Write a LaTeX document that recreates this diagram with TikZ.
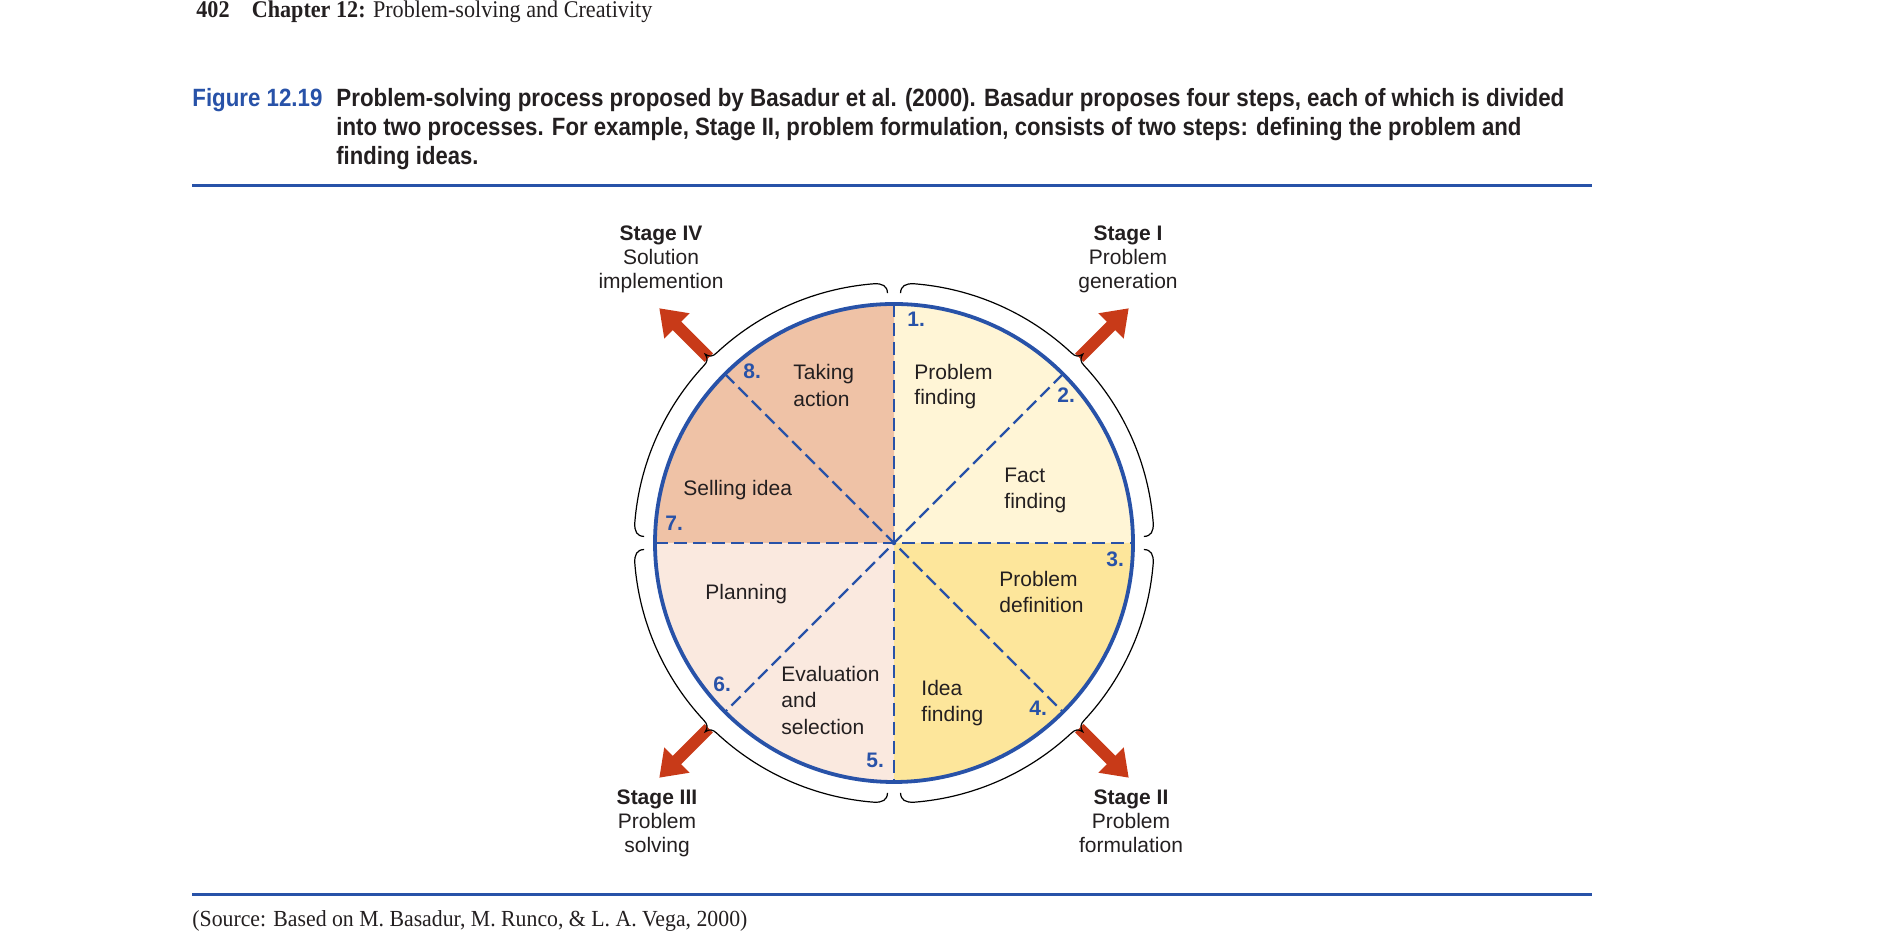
\documentclass[tikz,border=0pt]{standalone}
\usepackage{fontspec}
\setmainfont{Liberation Sans}
\newfontfamily\hdrfont{Liberation Serif}
\usepackage{graphicx}
\usetikzlibrary{arrows.meta}
\definecolor{figblue}{RGB}{40,82,168}
\definecolor{arrred}{RGB}{200,58,24}
\definecolor{txtdark}{RGB}{35,31,32}
\definecolor{qone}{RGB}{255,245,214}
\definecolor{qtwo}{RGB}{253,230,155}
\definecolor{qthree}{RGB}{250,233,223}
\definecolor{qfour}{RGB}{239,194,166}
\begin{document}
\begin{tikzpicture}[x=0.5pt,y=0.5pt,
  lbl/.style={anchor=base west, inner sep=0pt, font=\fontsize{10.5}{13}\selectfont, text=txtdark},
  num/.style={anchor=base west, inner sep=0pt, font=\fontsize{10.5}{13}\selectfont\bfseries, text=figblue},
  stg/.style={anchor=base, inner sep=0pt, font=\fontsize{10.5}{12}\selectfont, text=txtdark},
  stgb/.style={anchor=base, inner sep=0pt, font=\fontsize{10.5}{12}\selectfont\bfseries, text=txtdark},
  divline/.style={figblue, line width=1.1pt, dash pattern=on 6.5pt off 3pt},
  bigarrow/.style={arrred, line width=6pt, -{Triangle[width=17pt,length=12.5pt]}},
  bracel/.style={black, line width=0.6pt},
  rulel/.style={figblue, line width=1.5pt},
  captxt/.style={anchor=base west, inner sep=0pt, text=txtdark}]
\useasboundingbox (0,0) rectangle (1884,935);
\coordinate (C) at (894,392);

% header
\node[captxt] (header) at (196,917) {\resizebox{228pt}{\height}{\hdrfont\fontsize{12}{14}\selectfont\textbf{402}\quad\textbf{Chapter 12:} Problem-solving and Creativity}};

% caption
\node[captxt, text=figblue] (figlabel) at (192,828) {\resizebox{65pt}{\height}{\fontsize{12.5}{15}\selectfont\bfseries Figure 12.19}};
\node[captxt] (capa) at (336,828) {\resizebox{614pt}{\height}{\fontsize{12.5}{15}\selectfont\bfseries Problem-solving process proposed by Basadur et al. (2000). Basadur proposes four steps, each of which is divided}};
\node[captxt] (capb) at (336,799) {\resizebox{592.5pt}{\height}{\fontsize{12.5}{15}\selectfont\bfseries into two processes. For example, Stage II, problem formulation, consists of two steps: defining the problem and}};
\node[captxt] (capc) at (336,770) {\resizebox{71pt}{\height}{\fontsize{12.5}{15}\selectfont\bfseries finding ideas.}};

\coordinate (rtl) at (192,749); \coordinate (rtr) at (1592,749);
\draw[rulel] (rtl) -- (rtr);
\coordinate (rbl) at (192,40); \coordinate (rbr) at (1592,40);
\draw[rulel] (rbl) -- (rbr);

\node[captxt] (source) at (192,8) {\resizebox{277.5pt}{\height}{\hdrfont\fontsize{11.5}{13}\selectfont (Source: Based on M. Basadur, M. Runco, \& L. A. Vega, 2000)}};

% wheel
\begin{scope}[shift={(C)}]
  \fill[qone] (0,0) -- (0:119.5pt) arc[start angle=0, end angle=90, radius=119.5pt] -- cycle;
  \fill[qfour] (0,0) -- (90:119.5pt) arc[start angle=90, end angle=180, radius=119.5pt] -- cycle;
  \fill[qthree] (0,0) -- (180:119.5pt) arc[start angle=180, end angle=270, radius=119.5pt] -- cycle;
  \fill[qtwo] (0,0) -- (270:119.5pt) arc[start angle=270, end angle=360, radius=119.5pt] -- cycle;
  \coordinate (dT) at (90:119.5pt); \coordinate (dB) at (270:119.5pt);
  \coordinate (dL) at (180:119.5pt); \coordinate (dR) at (0:119.5pt);
  \coordinate (dNE) at (45:119.5pt); \coordinate (dSW) at (225:119.5pt);
  \coordinate (dNW) at (135:119.5pt); \coordinate (dSE) at (315:119.5pt);
  \draw[divline] (dT) -- (dB);
  \draw[divline] (dL) -- (dR);
  \draw[divline] (dNE) -- (dSW);
  \draw[divline] (dNW) -- (dSE);
  \draw[figblue, line width=1.9pt] (0,0) circle[radius=119.5pt];

  % arrows
  \foreach \a/\n in {45/one, 315/two, 225/three, 135/four}{
    \coordinate (as\n) at (\a:131pt);
    \coordinate (ae\n) at (\a:166pt);
  }
  \draw[bigarrow] (asone) -- (aeone);
  \draw[bigarrow] (astwo) -- (aetwo);
  \draw[bigarrow] (asthree) -- (aethree);
  \draw[bigarrow] (asfour) -- (aefour);

  % braces
  \foreach \A in {90,180,270,360}{
    \draw[bracel] ({\A-1.5}:125pt) .. controls ({\A-1.5}:128.5pt) and ({\A-2.5}:130pt) .. ({\A-4.5}:130pt)
      arc[start angle={\A-4.5}, end angle={\A-43}, radius=130pt]
      .. controls ({\A-44.2}:130pt) and ({\A-44.8}:131pt) .. ({\A-45}:133.5pt)
      .. controls ({\A-45.2}:131pt) and ({\A-45.8}:130pt) .. ({\A-47}:130pt)
      arc[start angle={\A-47}, end angle={\A-85.5}, radius=130pt]
      .. controls ({\A-87.5}:130pt) and ({\A-88.5}:128.5pt) .. ({\A-88.5}:125pt);
  }
\end{scope}

% sector labels
\node[lbl] (taking) at (793,555) {Taking};
\node[lbl] (action) at (793,528) {action};
\node[num] (n8) at (743,556) {8.};
\node[lbl] (pfa) at (914,555) {Problem};
\node[lbl] (pfb) at (914,530) {finding};
\node[num] (n1) at (907,608) {1.};
\node[num] (n2) at (1057,532) {2.};
\node[lbl] (ffa) at (1004,452) {Fact};
\node[lbl] (ffb) at (1004,426) {finding};
\node[lbl] (sell) at (683,439) {Selling idea};
\node[num] (n7) at (665,404) {7.};
\node[num] (n3) at (1106,368) {3.};
\node[lbl] (pda) at (999,348) {Problem};
\node[lbl] (pdb) at (999,322) {definition};
\node[lbl] (plan) at (705,335) {Planning};
\node[lbl] (ifa) at (921,239) {Idea};
\node[lbl] (ifb) at (921,213) {finding};
\node[num] (n4) at (1029,219) {4.};
\node[lbl] (eva) at (781,253) {Evaluation};
\node[lbl] (evb) at (781,227) {and};
\node[lbl] (evc) at (781,200) {selection};
\node[num] (n5) at (866,167) {5.};
\node[num] (n6) at (713,243) {6.};

% stage labels
\node[stgb] (s4a) at (661,694) {Stage IV};
\node[stg] (s4b) at (661,670) {Solution};
\node[stg] (s4c) at (661,646) {implemention};
\node[stgb] (s1a) at (1128,694) {Stage I};
\node[stg] (s1b) at (1128,670) {Problem};
\node[stg] (s1c) at (1128,646) {generation};
\node[stgb] (s3a) at (657,130) {Stage III};
\node[stg] (s3b) at (657,106) {Problem};
\node[stg] (s3c) at (657,82) {solving};
\node[stgb] (s2a) at (1131,130) {Stage II};
\node[stg] (s2b) at (1131,106) {Problem};
\node[stg] (s2c) at (1131,82) {formulation};
\end{tikzpicture}
\end{document}
